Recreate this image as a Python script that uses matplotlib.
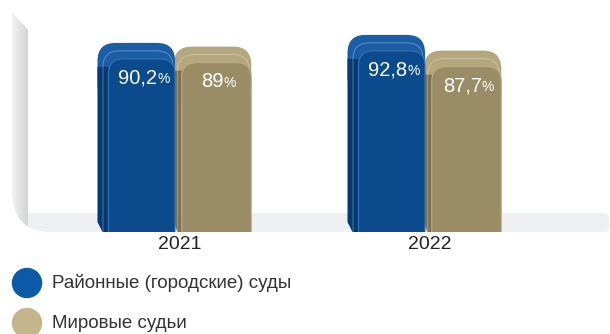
import numpy as np
import matplotlib
matplotlib.use('Agg')
import matplotlib.pyplot as plt
from matplotlib.patches import FancyBboxPatch, Polygon, PathPatch, Circle
from matplotlib.path import Path
from matplotlib.offsetbox import TextArea, HPacker, AnnotationBbox
from matplotlib.colors import to_rgb

# ---- data ----
years = ['2021', '2022']
series = ['Районные (городские) суды', 'Мировые судьи']
district = [90.2, 92.8]
magistrate = [89.0, 87.7]
district_labels = ['90,2', '92,8']
magistrate_labels = ['89', '87,7']

plt.rcParams['font.family'] = ['Liberation Sans', 'DejaVu Sans']

W, H = 610, 334
fig = plt.figure(figsize=(W / 100, H / 100), dpi=100)

# ---- background (wall + floor) in pixel coordinates ----
bg = fig.add_axes([0, 0, 1, 1])
bg.set_xlim(0, W)
bg.set_ylim(H, 0)
bg.axis('off')

verts = [(12, 12), (28, 30), (28, 213), (604, 213), (609, 216), (609, 229), (604, 232),
         (50, 232), (12, 232), (12, 190), (12, 12)]
codes = [Path.MOVETO, Path.LINETO, Path.LINETO, Path.LINETO, Path.CURVE3, Path.CURVE3,
         Path.LINETO, Path.LINETO, Path.CURVE3, Path.CURVE3, Path.CLOSEPOLY]
# fix curve order: (604,213)->(609,213)ctrl? simpler approximations
verts = [(12, 12), (28, 30), (28, 213), (604, 213), (609, 213), (609, 218), (609, 228),
         (609, 232), (604, 232), (50, 232), (12, 232), (12, 190), (12, 12)]
codes = [Path.MOVETO, Path.LINETO, Path.LINETO, Path.LINETO, Path.CURVE3, Path.CURVE3,
         Path.LINETO, Path.CURVE3, Path.CURVE3, Path.LINETO, Path.CURVE3, Path.CURVE3,
         Path.CLOSEPOLY]
wall_path = Path(verts, codes)
clip = PathPatch(wall_path, fc='none', ec='none', transform=bg.transData)
bg.add_patch(clip)

xs = np.arange(12, 610)
floor_c = np.array(to_rgb('#eef0f2'))
light = np.array(to_rgb('#f1f1f2'))
dark = np.array(to_rgb('#d2d3d5'))
img = np.zeros((1, len(xs), 3))
for k, xv in enumerate(xs):
    if xv < 28:
        t = (xv - 12) / 16
        img[0, k] = light * (1 - t) + dark * t
    else:
        img[0, k] = floor_c
im = bg.imshow(img, extent=(12, 610, 232, 12), aspect='auto', interpolation='bilinear', zorder=1)
im.set_clip_path(clip)

# ---- bars ----
FLOOR_PX = 232
PX_PER_VAL = 3.08
PX_PER_X = 250.0
ymin = 28.8
ax = fig.add_axes([0, (H - FLOOR_PX) / H, 1, FLOOR_PX / H])
ax.set_ylim(ymin, ymin + FLOOR_PX / PX_PER_VAL)
ax.set_xlim(-180 / PX_PER_X, (W - 180) / PX_PER_X)
ax.patch.set_visible(False)
for s in ax.spines.values():
    s.set_visible(False)
ax.set_yticks([])

def dx(p):
    return p / PX_PER_X

def dy(p):
    return p / PX_PER_VAL

asp = PX_PER_X / PX_PER_VAL

x = np.arange(len(years))
width = 0.31
offsets = [-0.175, 0.13]
values = [district, magistrate]
labels = [district_labels, magistrate_labels]
front_c = ['#0a4a8d', '#9a8d66']
top_c = ['#1b5ea6', '#b5a77c']
side_c = ['#063a73', '#7c7050']
edge_c = ['#3573b8', '#b9ad86']
side_px = [11, 8]
zbase = [6, 3]

for si in range(2):
    bars = ax.bar(x + offsets[si], values[si], width, color=front_c[si], zorder=zbase[si])
    for i, bar in enumerate(bars):
        bar.set_visible(False)
        x0 = bar.get_x()
        w = bar.get_width()
        top = bar.get_height()
        s = dx(side_px[si])
        z = zbase[si]
        # top cap
        ax.add_patch(FancyBboxPatch((x0, top - dy(60)), w, dy(60),
                                    boxstyle=f'round,pad=0,rounding_size={dx(18)}',
                                    mutation_aspect=asp, fc=top_c[si], ec='none', zorder=z))
        # left side face
        ax.add_patch(Polygon([(x0, top - dy(24)), (x0 + s, top - dy(24)), (x0 + s, ymin),
                              (x0 + s * 0.45, ymin), (x0, ymin + dy(10))],
                             closed=True, fc=side_c[si], ec='none', zorder=z + 0.1))
        # intermediate bevel line
        ax.add_patch(FancyBboxPatch((x0 + s * 0.5, ymin - dy(30)), w - s * 0.5 - dx(2),
                                    top - dy(8) - ymin + dy(30),
                                    boxstyle=f'round,pad=0,rounding_size={dx(16)}',
                                    mutation_aspect=asp, fc='none', ec='white', lw=0.6,
                                    alpha=0.35, zorder=z + 0.15))
        # front face
        ax.add_patch(FancyBboxPatch((x0 + s, ymin - dy(25)), w - s,
                                    top - dy(16) - ymin + dy(25),
                                    boxstyle=f'round,pad=0,rounding_size={dx(15)}',
                                    mutation_aspect=asp, fc=front_c[si], ec=edge_c[si],
                                    lw=0.8, zorder=z + 0.2))
        # value label
        pack = HPacker(children=[
            TextArea(labels[si][i], textprops=dict(color='white', fontsize=14.5)),
            TextArea('%', textprops=dict(color='white', fontsize=10))],
            align='baseline', pad=0, sep=0)
        ab = AnnotationBbox(pack, (x0 + s + (w - s) / 2 + dx(2), top - dy(35)),
                            xycoords='data', box_alignment=(0.5, 0.5), frameon=False,
                            zorder=z + 0.3)
        ax.add_artist(ab)

ax.set_xticks(x, years)
ax.tick_params(axis='x', length=0, pad=3, labelsize=14, labelcolor='#222222')

# ---- legend ----
leg_colors = ['#0a5aa8', '#c4b58a']
leg_y = [283, 323]
for k in range(2):
    bg.add_patch(Circle((27, leg_y[k]), 14.5, color=leg_colors[k], zorder=5))
    bg.text(52, leg_y[k], series[k], fontsize=13.5, color='#333333', va='center', ha='left',
            zorder=5)

fig.savefig('out.png', dpi=100)
